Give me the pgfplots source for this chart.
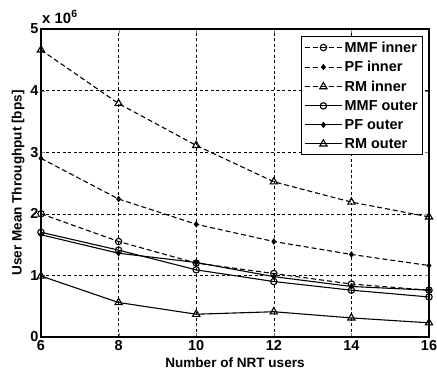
\documentclass[border=0pt]{standalone}
\usepackage{pgfplots}
\pgfplotsset{compat=1.18}
\usepackage{fontspec}
\setmainfont{Liberation Sans}
\begin{document}
\begin{tikzpicture}
\begin{axis}[
  name=ax,
  at={(0,0)}, anchor=south west,
  scale only axis,
  width=388bp, height=308bp,
  xmin=6, xmax=16, ymin=0, ymax=5,
  xtick={6,8,10,12,14,16},
  ytick={0,1,2,3,4,5},
  yticklabels={0,1,2,3,4,5},
  /pgf/number format/assume math mode=true,
  tick label style={font=\bfseries\fontsize{14.5}{16}\selectfont},
  label style={font=\bfseries\fontsize{13.6}{16}\selectfont},
  xlabel={Number of NRT users},
  ylabel={User Mean Throughput [bps]},
  xlabel style={yshift=0pt},
  ylabel style={yshift=-1pt},
  xticklabel style={yshift=0pt},
  yticklabel style={xshift=1pt},
  tick align=inside,
  ticks=major, major tick length=4pt,
  axis line style={line width=1.2pt},
  grid=major,
  grid style={black, line width=0.5pt, dash pattern=on 3pt off 2.5pt},
  legend style={at={(0.985,0.977)}, anchor=north east, draw=black, line width=1pt,
    font=\bfseries\fontsize{14.5}{16}\selectfont, row sep=3.6pt, inner sep=3pt},
  legend cell align=left,
  legend image code/.code={\draw[mark repeat=2,mark phase=2,#1] plot coordinates {(0cm,0cm) (0.66cm,0cm) (1.32cm,0cm)};},
  every axis plot/.append style={black, line width=1.1pt},
]
\addplot[dash pattern=on 5pt off 3pt, mark=o, mark size=3.2pt, mark options={solid, fill=white}] coordinates {(6,2.00) (8,1.55) (10,1.20) (12,1.03) (14,0.86) (16,0.76)};
\addlegendentry{MMF inner}
\addplot[dash pattern=on 5pt off 3pt, mark=diamond*, mark size=2.4pt, mark options={solid}] coordinates {(6,2.90) (8,2.24) (10,1.83) (12,1.55) (14,1.34) (16,1.16)};
\addlegendentry{PF inner}
\addplot[dash pattern=on 5pt off 3pt, mark=triangle, mark size=4.2pt, mark options={solid, fill=white}] coordinates {(6,4.66) (8,3.79) (10,3.11) (12,2.52) (14,2.19) (16,1.95)};
\addlegendentry{RM inner}
\addplot[solid, mark=o, mark size=3.2pt, mark options={fill=white}] coordinates {(6,1.70) (8,1.41) (10,1.09) (12,0.90) (14,0.76) (16,0.65)};
\addlegendentry{MMF outer}
\addplot[solid, mark=diamond*, mark size=2.4pt] coordinates {(6,1.66) (8,1.36) (10,1.21) (12,0.98) (14,0.82) (16,0.76)};
\addlegendentry{PF outer}
\addplot[solid, mark=triangle, mark size=4.2pt, mark options={fill=white}] coordinates {(6,0.99) (8,0.56) (10,0.37) (12,0.41) (14,0.31) (16,0.23)};
\addlegendentry{RM outer}
\end{axis}
\node[anchor=base west, inner sep=0pt, font=\bfseries\fontsize{15}{17}\selectfont] at (ax.north west) [yshift=6pt, xshift=1pt] {x 10\textsuperscript{\bfseries 6}};
\pgfresetboundingbox
\useasboundingbox (-41bp,-39bp) rectangle (396bp,337bp);
\end{tikzpicture}
\end{document}
